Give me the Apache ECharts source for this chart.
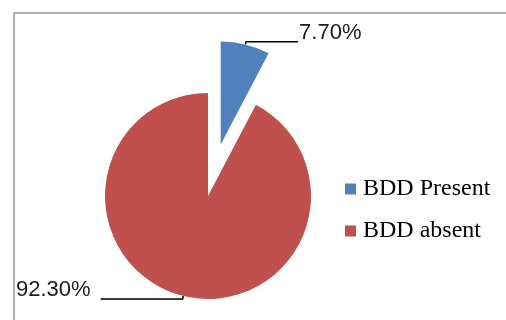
<!DOCTYPE html>
<html>
<head>
<meta charset="utf-8">
<script src="https://cdn.jsdelivr.net/npm/echarts@6/dist/echarts.min.js"></script>
<style>
html,body{margin:0;padding:0;background:#fff;}
#chart{width:506px;height:320px;}
</style>
</head>
<body>
<div id="chart"></div>
<script>
var categories = ['BDD Present', 'BDD absent'];
var values = [7.70, 92.30];
var labels = ['7.70%', '92.30%'];
var colors = ['#4f81bd', '#c0504d'];

var chart = echarts.init(document.getElementById('chart'), null, {renderer: 'canvas'});
var leaderLen2 = [52, 82];
var labelGap = [1, 10];
var data = categories.map(function (c, i) {
  return {
    name: c,
    value: values[i],
    selected: i === 0,
    itemStyle: {color: colors[i]},
    label: {formatter: labels[i] + '\n ', distanceToLabelLine: labelGap[i]},
    labelLine: {length2: leaderLen2[i]}
  };
});
chart.setOption({
  animation: false,
  graphic: [{
    type: 'rect',
    shape: {x: 14, y: 13, width: 700, height: 400},
    style: {fill: 'none', stroke: '#b0b0b0', lineWidth: 2},
    silent: true
  }],
  legend: {
    orient: 'vertical',
    left: 340,
    top: 172,
    itemWidth: 11,
    itemHeight: 11,
    itemGap: 18,
    icon: 'rect',
    data: categories,
    textStyle: {fontFamily: 'Liberation Serif', fontSize: 24, color: '#000', padding: [0, 0, 0, 2]}
  },
  series: [{
    type: 'pie',
    center: [208, 196],
    radius: 103,
    startAngle: 90,
    clockwise: true,
    selectedMode: 'single',
    selectedOffset: 53,
    avoidLabelOverlap: false,
    data: data,
    label: {
      show: true,
      position: 'outside',
      fontFamily: 'Liberation Sans',
      fontSize: 22,
      lineHeight: 18,
      color: '#1a1a1a'
    },
    labelLine: {
      show: true,
      length: 3,
      lineStyle: {color: '#000', width: 1.5}
    },
    emphasis: {disabled: true}
  }]
});
</script>
</body>
</html>
